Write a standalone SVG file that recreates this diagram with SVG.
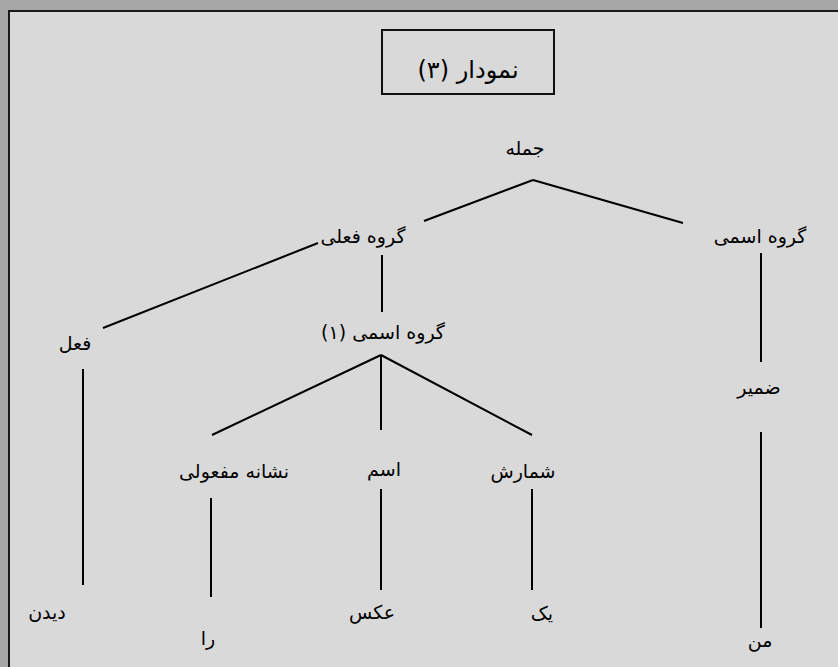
<svg xmlns="http://www.w3.org/2000/svg" width="838" height="667" viewBox="0 0 838 667">
<style>
text{font-family:"DejaVu Sans","Noto Sans",sans-serif;font-size:19px;fill:#000;text-anchor:middle;direction:rtl;unicode-bidi:embed}
.t{font-size:24px}
.e line{stroke:#000;stroke-width:2}
</style>
<rect x="0" y="0" width="838" height="667" fill="#a6a6a6"/>
<rect x="9" y="11" width="840" height="670" fill="#d9d9d9" stroke="#1a1a1a" stroke-width="2"/>
<g id="title"><rect x="382" y="30" width="172" height="64" fill="none" stroke="#111" stroke-width="2"/><text class="t" x="468" y="78">نمودار (۳)</text></g>
<g class="e" id="connectors">
<line x1="533" y1="180" x2="424" y2="221"/>
<line x1="533" y1="180" x2="683" y2="223"/>
<line x1="382" y1="255" x2="382" y2="312"/>
<line x1="318" y1="243" x2="103" y2="328"/>
<line x1="761" y1="253" x2="761" y2="362"/>
<line x1="83" y1="369" x2="83" y2="585"/>
<line x1="381" y1="355" x2="212" y2="435"/>
<line x1="381" y1="355" x2="381" y2="430"/>
<line x1="381" y1="355" x2="532" y2="435"/>
<line x1="211" y1="498" x2="211" y2="597"/>
<line x1="381" y1="489" x2="381" y2="590"/>
<line x1="532" y1="489" x2="532" y2="590"/>
<line x1="761" y1="432" x2="761" y2="628"/>
</g>
<g id="n-jomle"><text x="525" y="155">جمله</text></g>
<g id="n-goruh-feli"><text x="363" y="243">گروه فعلی</text></g>
<g id="n-goruh-esmi"><text x="760" y="243">گروه اسمی</text></g>
<g id="n-fel"><text x="75" y="350">فعل</text></g>
<g id="n-goruh-esmi-1"><text x="383" y="339">گروه اسمی (۱)</text></g>
<g id="n-zamir"><text x="759" y="394">ضمیر</text></g>
<g id="n-neshane"><text x="234" y="478">نشانه مفعولی</text></g>
<g id="n-esm"><text x="384" y="476">اسم</text></g>
<g id="n-shomaresh"><text x="523" y="478">شمارش</text></g>
<g id="n-didan"><text x="47" y="619">دیدن</text></g>
<g id="n-ra"><text x="208" y="645">را</text></g>
<g id="n-aks"><text x="372" y="619">عکس</text></g>
<g id="n-yek"><text x="542" y="620">یک</text></g>
<g id="n-man"><text x="760" y="647">من</text></g>
</svg>
